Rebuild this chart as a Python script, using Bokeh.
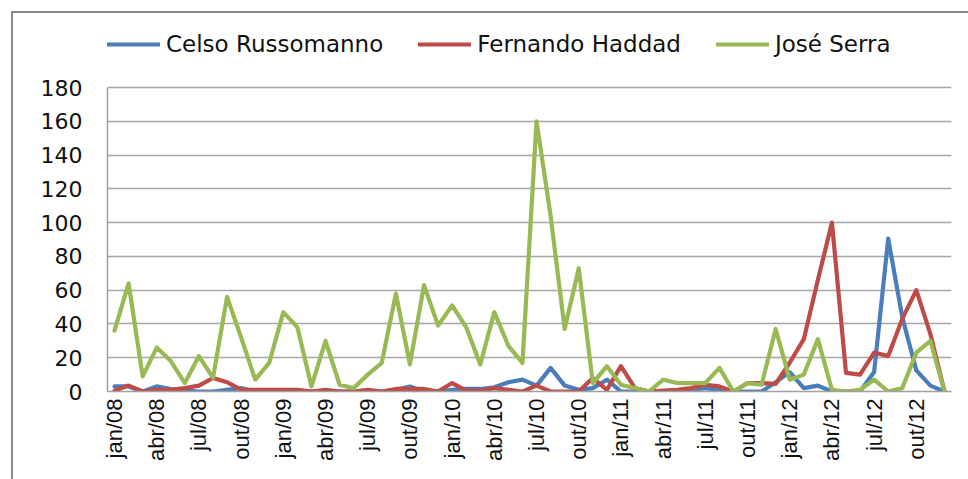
import numpy as np
from bokeh.plotting import figure
from bokeh.models import (Legend, LegendItem, FixedTicker, Range1d, ColumnDataSource)
from bokeh.embed import file_html
from bokeh.resources import INLINE

# ---- data ----
years = ["08", "09", "10", "11", "12"]
month_abbr = ["jan", "fev", "mar", "abr", "mai", "jun", "jul", "ago", "set", "out", "nov", "dez"]
months = [f"{m}/{y}" for y in years for m in month_abbr]

tick_labels = ["jan/08", "abr/08", "jul/08", "out/08", "jan/09", "abr/09", "jul/09", "out/09",
               "jan/10", "abr/10", "jul/10", "out/10", "jan/11", "abr/11", "jul/11", "out/11",
               "jan/12", "abr/12", "jul/12", "out/12"]

y_ticks = [0, 20, 40, 60, 80, 100, 120, 140, 160, 180]

russomanno = [3, 3, 0, 3, 1.5, 0.5, 0, 0, 1, 2, 0, 0,
              0, 0, 0, 0, 0, 0, 0, 0, 1, 3, 0, 0,
              1, 1.5, 1.5, 2.5, 5.5, 7, 3.5, 14, 3.5, 1, 2, 7,
              0, 0, 0, 0, 0, 1, 2, 1, 0, 0, 0, 5.5,
              11.5, 2, 3.5, 0, 0, 0, 11.5, 90.5, 44, 12.5, 3.5, 0]

haddad = [0.5, 3.5, 0, 1, 1, 2, 3.5, 8, 5.5, 1, 1, 1,
          1, 1, 0, 1, 0, 0, 1, 0, 1.5, 1.5, 1.5, 0,
          5, 0.5, 0.5, 2, 1, 0, 3.5, 0, 0, 0, 8, 1,
          15, 2, 0, 0.5, 1, 2, 4, 3, 0, 5, 5, 4.5,
          17, 31, 66, 100, 11, 10, 23, 21, 43, 60, 34, 0]

serra = [36, 64, 9, 26, 18, 5, 21, 8, 56, 32, 7, 17,
         47, 38, 3, 30, 4, 2, 10, 17, 58, 16, 63, 39,
         51, 38, 16, 47, 27, 17, 160, 104, 37, 73, 5, 15,
         4, 2, 0, 7, 5, 5, 5, 14, 0, 5, 4, 37,
         7, 10, 31, 1, 0, 1, 7, 0, 2, 23, 30, 0]

series_names = ["Celso Russomanno", "Fernando Haddad", "José Serra"]
series_colors = ["#4a7ebb", "#be4b48", "#98b954"]

# ---- layout geometry (pixels) ----
W, H = 968, 479
frame_left, frame_right_gap, frame_bottom_gap = 107, 17, 88
frame_h = H - frame_bottom_gap            # frame spans the full height above the x axis
plot_top_px = 87                          # where the value 180 sits
y_max = y_ticks[-1]
y_end = y_max * frame_h / (frame_h - plot_top_px)   # leaves room for the legend inside the frame

p = figure(width=W, height=H, output_backend="svg", toolbar_location=None,
           x_range=Range1d(-0.5, len(months) - 0.5), y_range=Range1d(0, y_end),
           min_border_left=frame_left, min_border_right=frame_right_gap,
           min_border_top=0, min_border_bottom=frame_bottom_gap)
p.outline_line_color = None
p.background_fill_alpha = 0
p.border_fill_alpha = 0
# outer chart border (left and top edges visible), drawn as the host background
p.styles = {
    "background-color": "white",
    "background-image": "linear-gradient(#8a8a8a, #8a8a8a), linear-gradient(#8a8a8a, #8a8a8a)",
    "background-position": "11px 11px, 11px 11px",
    "background-size": "2px 100%, 100% 2px",
    "background-repeat": "no-repeat",
}

idx = list(range(len(months)))
source = ColumnDataSource(dict(x=idx, month=months, r=russomanno, h=haddad, s=serra))

renderers = []
for col, color in zip(["r", "h", "s"], series_colors):
    rr = p.line("x", col, source=source, line_color=color, line_width=4.2,
                line_join="round", line_cap="round")
    renderers.append(rr)

# axes
tick_pos = [months.index(t) for t in tick_labels]
p.xaxis.ticker = FixedTicker(ticks=tick_pos)
p.xaxis.major_label_overrides = {i: months[i] for i in tick_pos}
p.xaxis.major_label_orientation = np.pi / 2
p.xaxis.major_label_text_font = "Liberation Sans"
p.xaxis.major_label_text_font_size = "22px"
p.xaxis.major_label_text_color = "#111111"
p.xaxis.major_label_standoff = 7
p.xaxis.major_tick_out = 0
p.xaxis.major_tick_in = 0
p.xaxis.major_tick_line_color = None
p.xaxis.minor_tick_line_color = None
p.xaxis.axis_line_color = "#a0a0a0"
p.xaxis.axis_line_width = 1.5

p.yaxis.ticker = FixedTicker(ticks=y_ticks)
p.yaxis.bounds = (0, y_max)
p.yaxis.major_label_text_font = "DejaVu Sans"
p.yaxis.major_label_text_font_size = "22px"
p.yaxis.major_label_text_color = "#111111"
p.yaxis.major_label_standoff = 25
p.yaxis.major_tick_out = 0
p.yaxis.major_tick_in = 0
p.yaxis.major_tick_line_color = None
p.yaxis.minor_tick_line_color = None
p.yaxis.axis_line_color = "#a0a0a0"
p.yaxis.axis_line_width = 1.5

p.xgrid.grid_line_color = None
p.ygrid.grid_line_color = "#a6a6a6"
p.ygrid.grid_line_width = 1.5

# legend in the upper (empty) part of the frame
item_h = 28
legend_center_px = 43.5
legend = Legend(items=[LegendItem(label=n, renderers=[r]) for n, r in zip(series_names, renderers)],
                location=(0, frame_h - legend_center_px - item_h / 2), orientation="horizontal",
                glyph_width=53, glyph_height=item_h, label_height=item_h,
                label_standoff=6, padding=0, margin=0, spacing=35,
                border_line_color=None, background_fill_alpha=0,
                label_text_font="DejaVu Sans", label_text_font_size="23px",
                label_text_color="#111111")
p.add_layout(legend, "center")

open("out.html", "w").write(file_html(p, INLINE))
